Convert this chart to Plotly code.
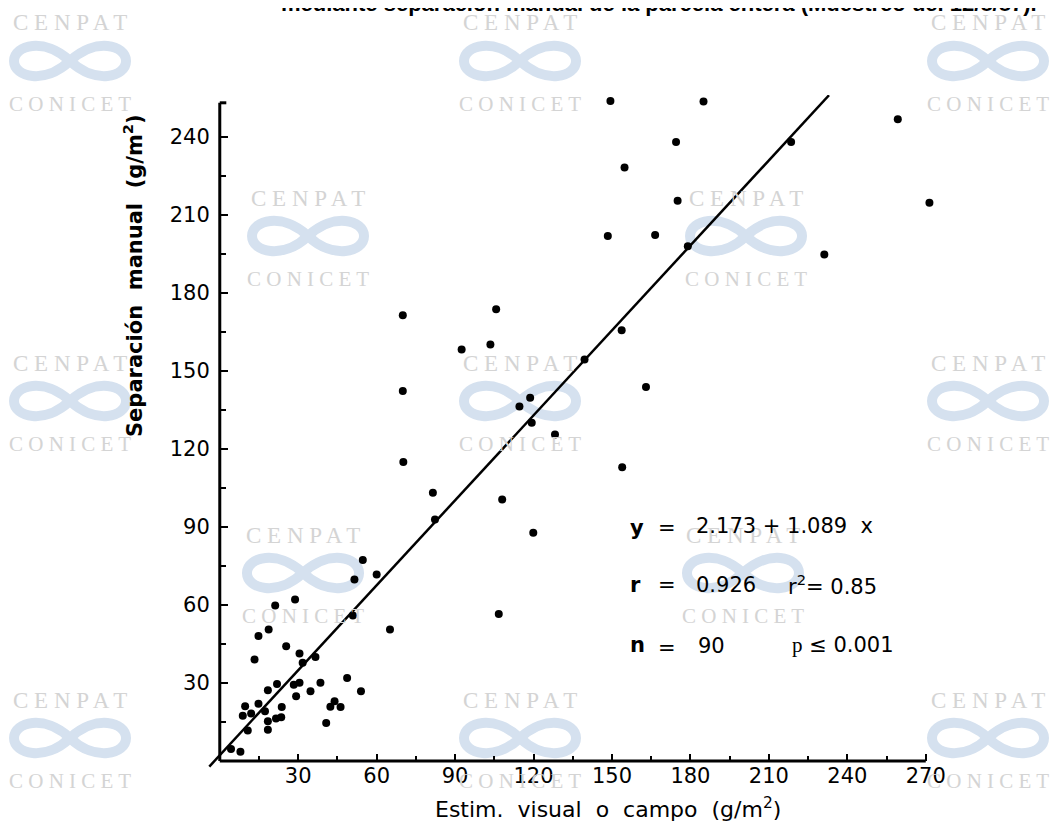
import plotly.graph_objects as go

# puntos (g/m2)
estim_visual = [54.7, 51.5, 60.0, 21.2, 28.8, 18.7, 14.8, 65.1, 25.4, 13.3,
                30.5, 36.6, 31.7, 50.9, 48.7, 54.0, 38.5, 34.7, 30.5, 28.3,
                21.9, 18.4, 29.2, 43.9, 42.3, 46.2, 40.7, 23.7, 17.3, 21.5,
                23.5, 18.4, 18.4, 9.7, 8.8, 12.0, 14.8, 10.7, 4.3, 7.9,
                149.4, 185.0, 154.8, 148.4, 70.0, 105.7, 92.5, 103.5, 70.0, 153.7,
                139.5, 118.7, 114.6, 174.5, 218.5, 259.3, 271.4, 175.1, 166.5, 179.0,
                231.2, 163.0, 119.3, 128.2, 70.2, 153.9, 81.5, 108.0, 82.3, 119.9,
                106.7]
separacion = [77.2, 69.7, 71.7, 59.7, 62.0, 50.5, 48.0, 50.5, 44.1, 39.0,
              41.3, 39.9, 37.7, 55.9, 31.9, 26.8, 30.0, 26.8, 30.0, 29.3,
              29.6, 27.2, 24.9, 22.9, 20.8, 20.7, 14.6, 20.7, 19.1, 16.3,
              16.8, 15.2, 12.0, 21.0, 17.4, 18.2, 22.0, 11.7, 4.6, 3.5,
              253.7, 253.5, 228.1, 201.8, 171.3, 173.6, 158.2, 160.1, 142.2, 165.6,
              154.3, 139.6, 136.2, 237.9, 237.9, 246.7, 214.6, 215.3, 202.2, 197.9,
              194.7, 143.7, 130.0, 125.5, 114.9, 112.9, 103.1, 100.5, 92.8, 87.7,
              56.5]

# recta de regresion y = 2.173 + 1.089 x
a, b = 2.173, 1.089
line_x = [-4, 233]
line_y = [a + b * v for v in line_x]

x_ticks = [30, 60, 90, 120, 150, 180, 210, 240, 270]
y_ticks = [30, 60, 90, 120, 150, 180, 210, 240]

X_RANGE = [-4.5, 272]
Y_RANGE = [-3.5, 256]
L, T = 200, 87
PW, PH = 723, 675

FONT = "DejaVu Sans"
WM_GREY = "#d4d4d4"
WM_BLUE = "#d5e1ef"


def px_x(p):
    return (p - L) / PW


def px_y(p):
    return (T + PH - p) / PH


def logo_path(cx, cy, w=56, h=16):
    # infinito aproximado, en coordenadas de papel
    pts = [(cx, cy),
           (cx + w * 0.45, cy - h * 1.5), (cx + w, cy - h), (cx + w, cy),
           (cx + w, cy + h), (cx + w * 0.45, cy + h * 1.5), (cx, cy),
           (cx - w * 0.45, cy - h * 1.5), (cx - w, cy - h), (cx - w, cy),
           (cx - w, cy + h), (cx - w * 0.45, cy + h * 1.5), (cx, cy)]
    p = [f"{px_x(x):.4f},{px_y(y):.4f}" for x, y in pts]
    return ("M " + p[0] + " C " + " ".join(p[1:4]) + " C " + " ".join(p[4:7])
            + " C " + " ".join(p[7:10]) + " C " + " ".join(p[10:13]))


def note(x, y, text, font, **kw):
    kw.setdefault("xanchor", "center")
    kw.setdefault("yanchor", "middle")
    fig.add_annotation(x=px_x(x), y=px_y(y), xref="paper", yref="paper",
                       text=text, showarrow=False, font=font, **kw)


fig = go.Figure()

# marcas de agua
watermarks = [(62, 15), (512, 15), (980, 15), (300, 190), (738, 190),
              (62, 355), (512, 355), (980, 355), (295, 527), (735, 527),
              (62, 692), (512, 692), (980, 692)]
for cx, cy in watermarks:
    fig.add_shape(type="path", xref="paper", yref="paper", layer="below",
                  path=logo_path(cx, cy + 38), line=dict(color=WM_BLUE, width=10))
    note(cx, cy, "C E N P A T", dict(family="Liberation Serif", size=23, color=WM_GREY))
    note(cx, cy + 81, "C O N I C E T", dict(family="Liberation Serif", size=21, color=WM_GREY))

fig.add_trace(go.Scatter(x=line_x, y=line_y, mode="lines",
                         line=dict(color="black", width=2.5), showlegend=False))
fig.add_trace(go.Scatter(x=estim_visual, y=separacion, mode="markers",
                         marker=dict(color="black", size=8), showlegend=False,
                         cliponaxis=False))

# ejes dibujados desde el origen
fig.add_shape(type="line", x0=0, y0=0, x1=0, y1=253, line=dict(color="black", width=3))
fig.add_shape(type="line", x0=0, y0=0, x1=270, y1=0, line=dict(color="black", width=3))
fig.add_shape(type="line", x0=0, y0=253, x1=2.5, y1=253, line=dict(color="black", width=3))

# titulo cortado en la parte superior
note(651, 10, "<b>mediante separación manual de la parcela entera (Muestreo del 12/8/87).</b>",
     dict(family="Liberation Sans", size=22, color="black"), yanchor="bottom")

# titulos de ejes
note(125, 268, "<b>Separación  manual  (g/m<sup>2</sup>)</b>",
     dict(family=FONT, size=21, color="black"), textangle=-90)
note(600, 800, "Estim.  visual  o  campo  (g/m<sup>2</sup>)",
     dict(family=FONT, size=22, color="black"))

# ecuacion
eq_font = dict(family=FONT, size=21, color="black")
note(620, 520, "<b>y</b>", eq_font, xanchor="left")
note(620, 577, "<b>r</b>", eq_font, xanchor="left")
note(620, 637, "<b>n</b>", eq_font, xanchor="left")
for yy in (520, 577, 640):
    note(648, yy, "=", eq_font, xanchor="left")
note(686, 518, "2.173 + 1.089  x", eq_font, xanchor="left")
note(686, 577, "0.926", eq_font, xanchor="left")
note(778, 577, "r<sup>2</sup>= 0.85", eq_font, xanchor="left")
note(688, 638, "90", eq_font, xanchor="left")
note(782, 637, "<span style='font-family:Liberation Serif'>p</span> ≤ 0.001",
     eq_font, xanchor="left")

fig.update_layout(
    width=1060, height=822,
    margin=dict(l=L, r=1060 - L - PW, t=T, b=822 - T - PH),
    paper_bgcolor="white", plot_bgcolor="white",
    font=dict(family=FONT, color="black"),
    xaxis=dict(range=X_RANGE, showgrid=False, zeroline=False, showline=False,
               anchor="free", position=(0 - Y_RANGE[0]) / (Y_RANGE[1] - Y_RANGE[0]),
               tickmode="array", tickvals=x_ticks, ticks="inside", ticklen=7,
               tickwidth=2, tickcolor="black", ticklabelstandoff=0,
               minor=dict(tickmode="array", tickvals=[t - 15 for t in x_ticks],
                          ticks="inside", ticklen=5, tickwidth=2, tickcolor="black"),
               tickfont=dict(family=FONT, size=21)),
    yaxis=dict(range=Y_RANGE, showgrid=False, zeroline=False, showline=False,
               anchor="free", position=(0 - X_RANGE[0]) / (X_RANGE[1] - X_RANGE[0]),
               tickmode="array", tickvals=y_ticks, ticks="inside", ticklen=7,
               tickwidth=2, tickcolor="black", ticklabelstandoff=10,
               minor=dict(tickmode="array", tickvals=[t - 15 for t in y_ticks],
                          ticks="inside", ticklen=5, tickwidth=2, tickcolor="black"),
               tickfont=dict(family=FONT, size=21)),
)

fig.write_html("out.html")
